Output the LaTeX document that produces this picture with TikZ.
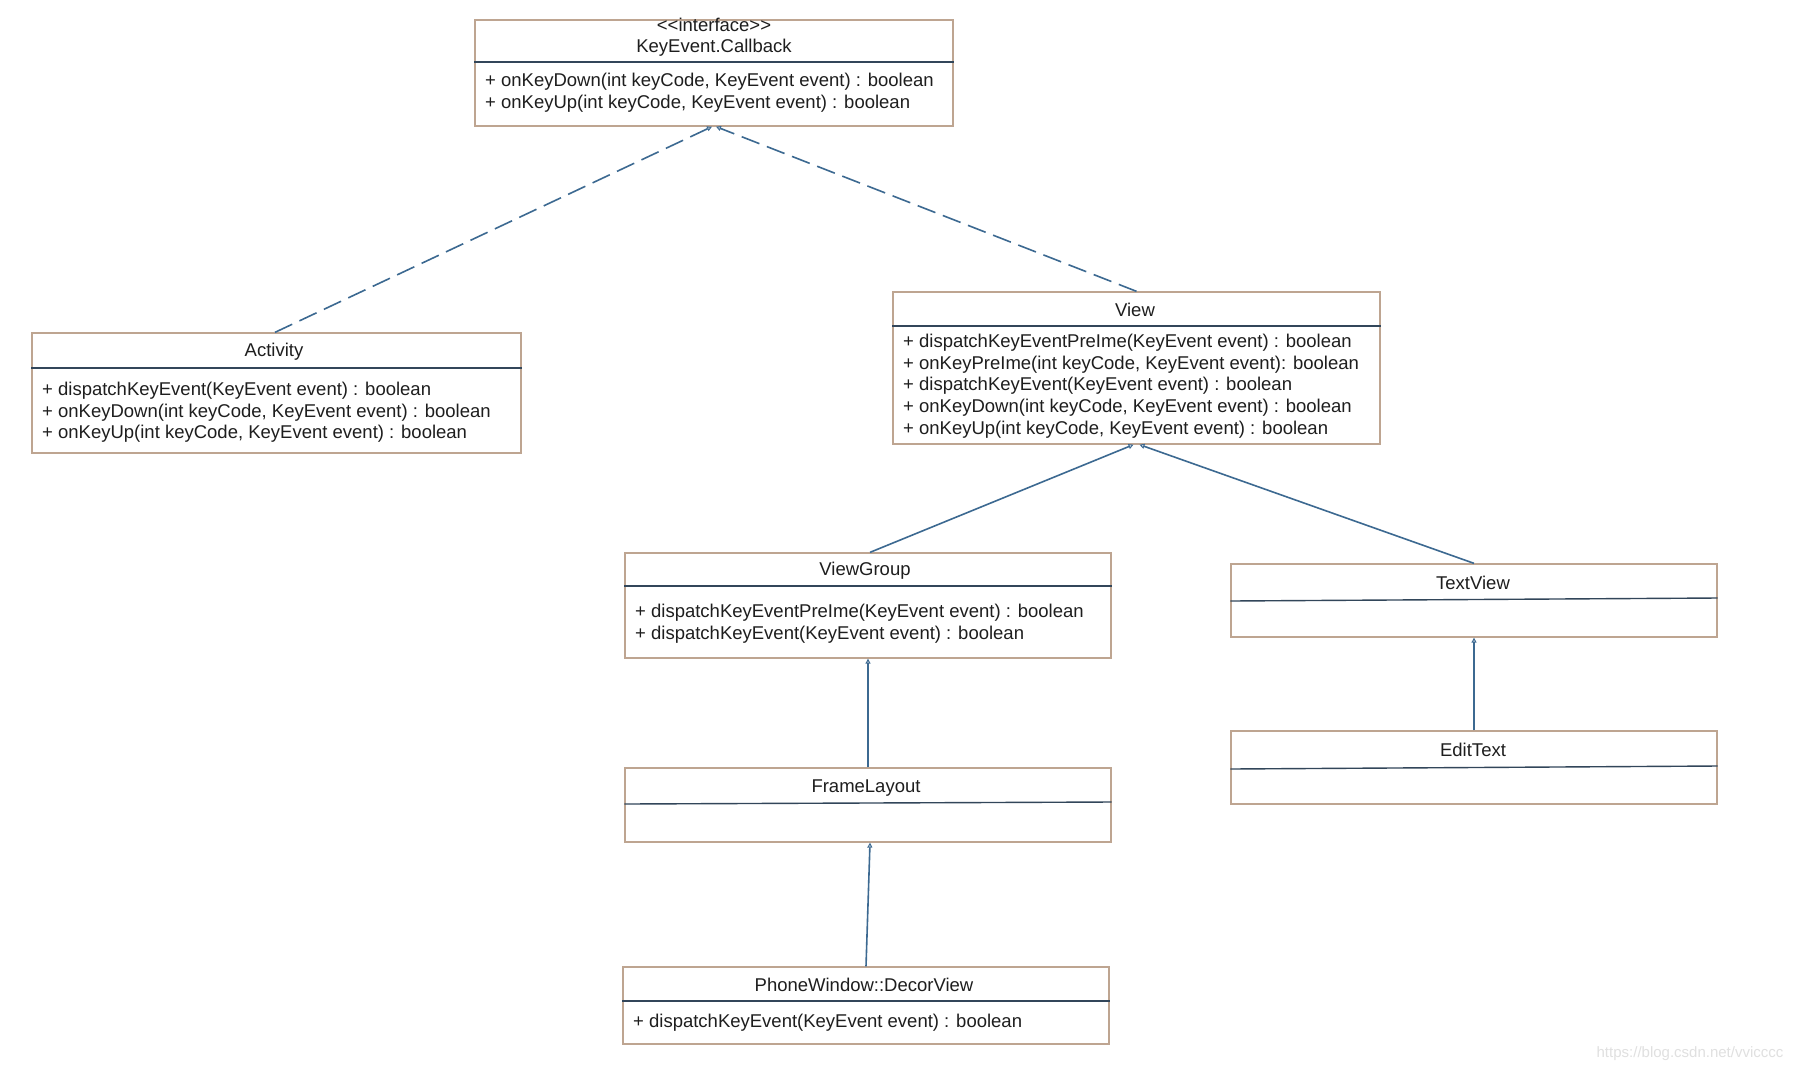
\documentclass[tikz,border=0pt]{standalone}
\usepackage{fontspec}
\setmainfont{Liberation Sans}
\usetikzlibrary{arrows.meta}
\definecolor{boxc}{RGB}{190,165,145}
\definecolor{sepc}{RGB}{50,70,90}
\definecolor{linec}{RGB}{60,105,145}
\definecolor{txtc}{RGB}{30,30,30}
\begin{document}
\begin{tikzpicture}[x=1pt,y=-1pt,
  umlbox/.style={draw=boxc,line width=1.3pt,rectangle,inner sep=0pt,fill=white},
  sepline/.style={draw=sepc,line width=1.4pt},
  title/.style={text=txtc,inner sep=0pt,font=\fontsize{18.5}{22}\selectfont},
  meth/.style={text=txtc,inner sep=0pt,anchor=west,font=\fontsize{18.5}{22}\selectfont},
  realize/.style={draw=linec,line width=1.6pt,dash pattern=on 19pt off 8pt,-{Triangle[open,length=5pt,width=5pt,line width=1pt]}},
  inherit/.style={draw=linec,line width=1.6pt,-{Triangle[open,length=5pt,width=5pt,line width=1pt]}}]
\useasboundingbox (0,0) rectangle (1794,1072);
\fill[white] (0,0) rectangle (1794,1072);

% KeyEvent.Callback
\node[umlbox,minimum width=478pt,minimum height=106pt] (cb) at (714,73) {};
\draw[sepline] (cb.west |- 0,62) -- (cb.east |- 0,62);
\node[title] (cb-st) at (714,25) {<\kern0pt<interface>\kern0pt>};
\node[title] (cb-t) at (714,48) {KeyEvent.Callback};
\node[meth] (cb-m1) at (485,82) {+ onKeyDown(int keyCode, KeyEvent event) : boolean};
\node[meth] (cb-m2) at (485,104) {+ onKeyUp(int keyCode, KeyEvent event) : boolean};

% Activity
\node[umlbox,minimum width=489pt,minimum height=120pt] (act) at (276.5,393) {};
\draw[sepline] (act.west |- 0,368) -- (act.east |- 0,368);
\node[title] (act-t) at (274,352) {Activity};
\node[meth] (act-m1) at (42,391) {+ dispatchKeyEvent(KeyEvent event) : boolean};
\node[meth] (act-m2) at (42,413) {+ onKeyDown(int keyCode, KeyEvent event) : boolean};
\node[meth] (act-m3) at (42,434) {+ onKeyUp(int keyCode, KeyEvent event) : boolean};

% View
\node[umlbox,minimum width=487pt,minimum height=152pt] (view) at (1136.5,368) {};
\draw[sepline] (view.west |- 0,326) -- (view.east |- 0,326);
\node[title] (view-t) at (1135,310) {View};
\node[meth] (view-m1) at (903,343) {+ dispatchKeyEventPreIme(KeyEvent event) : boolean};
\node[meth] (view-m2) at (903,365) {+ onKeyPreIme(int keyCode, KeyEvent event): boolean};
\node[meth] (view-m3) at (903,386) {+ dispatchKeyEvent(KeyEvent event) : boolean};
\node[meth] (view-m4) at (903,408) {+ onKeyDown(int keyCode, KeyEvent event) : boolean};
\node[meth] (view-m5) at (903,430) {+ onKeyUp(int keyCode, KeyEvent event) : boolean};

% ViewGroup
\node[umlbox,minimum width=486pt,minimum height=105pt] (vg) at (868,605.5) {};
\draw[sepline] (vg.west |- 0,586) -- (vg.east |- 0,586);
\node[title] (vg-t) at (865,571) {ViewGroup};
\node[meth] (vg-m1) at (635,613) {+ dispatchKeyEventPreIme(KeyEvent event) : boolean};
\node[meth] (vg-m2) at (635,635) {+ dispatchKeyEvent(KeyEvent event) : boolean};

% TextView
\node[umlbox,minimum width=486pt,minimum height=73pt] (tv) at (1474,600.5) {};
\draw[sepline] (tv.west |- 0,601) -- (tv.east |- 0,598);
\node[title] (tv-t) at (1473,583) {TextView};

% EditText
\node[umlbox,minimum width=486pt,minimum height=73pt] (et) at (1474,767.5) {};
\draw[sepline] (et.west |- 0,769) -- (et.east |- 0,766);
\node[title] (et-t) at (1473,750) {EditText};

% FrameLayout
\node[umlbox,minimum width=486pt,minimum height=74pt] (fl) at (868,805) {};
\draw[sepline] (fl.west |- 0,804) -- (fl.east |- 0,802);
\node[title] (fl-t) at (866,788) {FrameLayout};

% PhoneWindow::DecorView
\node[umlbox,minimum width=486pt,minimum height=77pt] (dv) at (866,1005.5) {};
\draw[sepline] (dv.west |- 0,1001) -- (dv.east |- 0,1001);
\node[title] (dv-t) at (864,985) {PhoneWindow::DecorView};
\node[meth] (dv-m1) at (633,1023) {+ dispatchKeyEvent(KeyEvent event) : boolean};

% connectors
\draw[realize] ([xshift=-1.5pt]act.north) -- ([xshift=-2pt]cb.south);
\draw[realize] (view.north) -- ([xshift=2pt]cb.south);
\draw[inherit] ([xshift=2pt]vg.north) -- ([xshift=-3pt]view.south);
\draw[inherit] (tv.north) -- ([xshift=3pt]view.south);
\draw[inherit] (et.north) -- (tv.south);
\draw[inherit] (fl.north) -- (vg.south);
\draw[inherit] (dv.north) -- ([xshift=2pt]fl.south);

% watermark
\node[text=black!12,inner sep=0pt,font=\fontsize{15}{18}\selectfont] (wm) at (1690,1054) {https://blog.csdn.net/vvicccc};
\end{tikzpicture}
\end{document}
